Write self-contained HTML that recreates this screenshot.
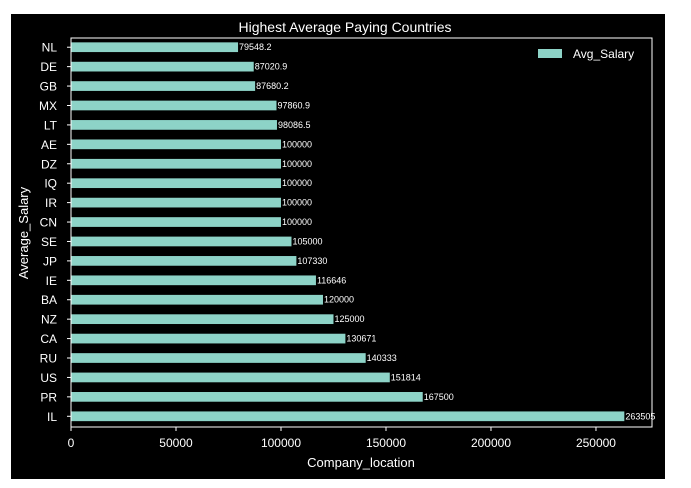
<!DOCTYPE html>
<html><head><meta charset="utf-8"><style>
html,body{margin:0;padding:0;background:#fff;width:691px;height:488px;overflow:hidden}
svg{display:block;font-family:"Liberation Sans",sans-serif}
</style></head><body>
<svg id="chart" width="691" height="488">
<rect x="11" y="14" width="654" height="465" fill="#000"/>
<text x="345" y="32" fill="#fff" font-size="14" text-anchor="middle">Highest Average Paying Countries</text>
<g id="bars"></g>
<g id="xticks"></g>
<g id="yticks"></g>
<rect x="71" y="38" width="581" height="389" fill="none" stroke="#fff" stroke-width="1"/>
<text x="361" y="467" fill="#fff" font-size="13" text-anchor="middle">Company_location</text>
<text transform="translate(28,233) rotate(-90)" fill="#fff" font-size="13" text-anchor="middle">Average_Salary</text>
<g>
<rect x="538" y="49" width="24" height="9" fill="#8dd3c7"/>
<text x="573" y="58" fill="#fff" font-size="12">Avg_Salary</text>
</g>
</svg>
<script>
const categories=["NL","DE","GB","MX","LT","AE","DZ","IQ","IR","CN","SE","JP","IE","BA","NZ","CA","RU","US","PR","IL"];
const values=[79548.2,87020.9,87680.2,97860.9,98086.5,100000,100000,100000,100000,100000,105000,107330,116646,120000,125000,130671,140333,151814,167500,263505];
const labels=["79548.2","87020.9","87680.2","97860.9","98086.5","100000","100000","100000","100000","100000","105000","107330","116646","120000","125000","130671","140333","151814","167500","263505"];
const xTicks=[0,50000,100000,150000,200000,250000];
const NS="http://www.w3.org/2000/svg";
const x0=71,x1=652,y0=37.5,y1=426;
const xmax=Math.max(...values)*1.05;
const xs=v=>x0+v/xmax*(x1-x0);
const step=(y1-y0)/categories.length;
const ys=i=>y0+step*(i+0.5);
const bars=document.getElementById('bars'),xt=document.getElementById('xticks'),yt=document.getElementById('yticks');
function mk(tag,attrs,parent,text){const e=document.createElementNS(NS,tag);for(const k in attrs)e.setAttribute(k,attrs[k]);if(text!==undefined)e.textContent=text;parent.appendChild(e);return e;}
categories.forEach((c,i)=>{
  const y=ys(i),bh=step*0.5;
  const r=mk('rect',{x:x0,y:y-bh/2,width:xs(values[i])-x0,height:bh,fill:'#8dd3c7'},bars);
  
  
  const t=mk('text',{x:xs(values[i])+1,y:y+3,fill:'#fff','font-size':'9'},bars,labels[i]);
  
  
  const tk=mk('line',{x1:x0-4,x2:x0,y1:y,y2:y,stroke:'#fff'},yt);
  
  
  const tl=mk('text',{x:x0-14,y:y+4.5,fill:'#fff','font-size':'12','text-anchor':'end'},yt,c);
  
  
});
xTicks.forEach(v=>{
  const x=xs(v);
  const tk=mk('line',{x1:x,x2:x,y1:427,y2:431,stroke:'#fff'},xt);
  
  
  const tl=mk('text',{x:x,y:447,fill:'#fff','font-size':'12','text-anchor':'middle'},xt,String(v));
  
  
});
</script>
</body></html>
